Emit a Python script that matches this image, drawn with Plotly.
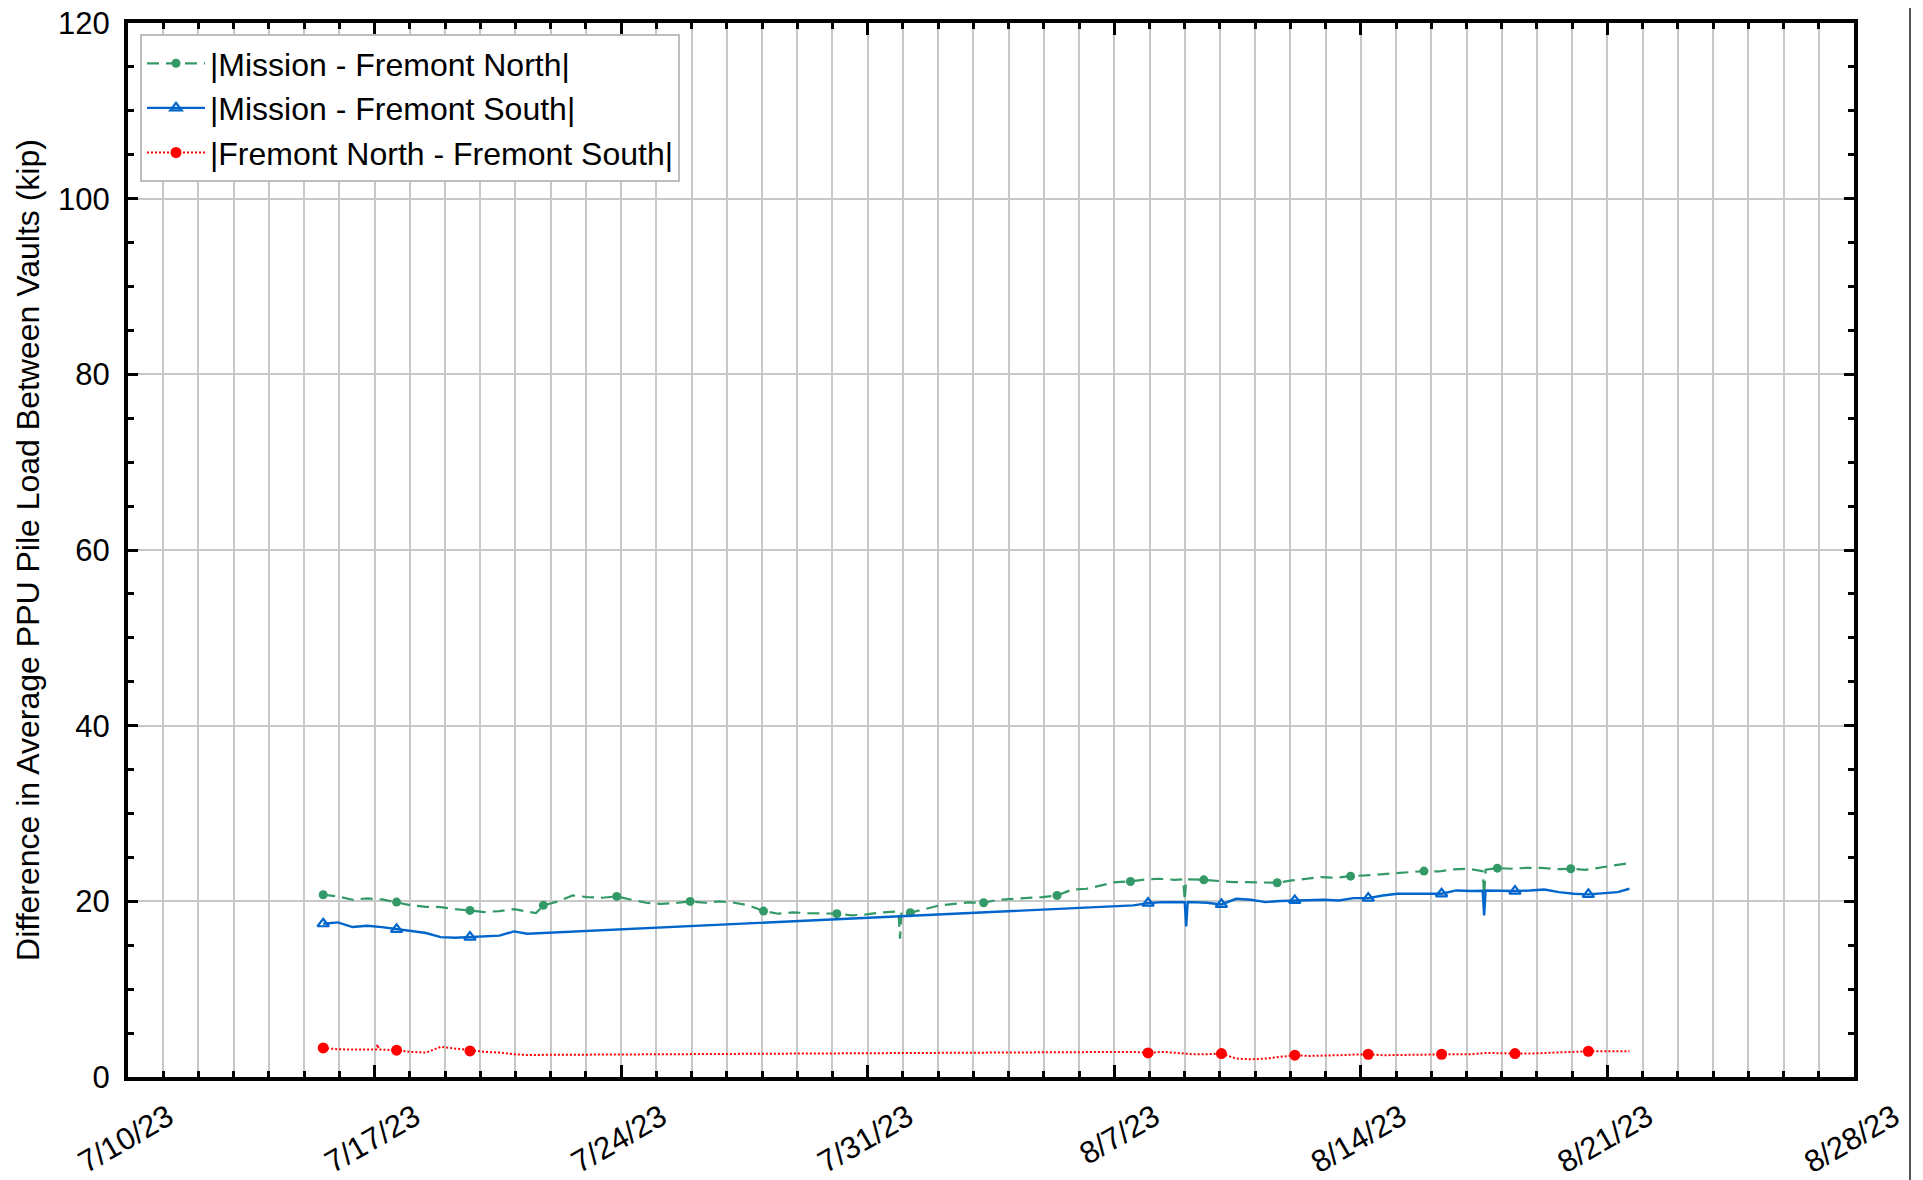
import plotly.graph_objects as go
import pandas as pd

# ---------------- data ----------------
log_start = "2023-07-15 13:00"   # first reading; readings logged hourly
marker_every = 50                # a marker on every 50th logged reading

# |Mission - Fremont North|
north_hours = [0, 10, 20, 30, 40, 50, 60, 70, 80, 90, 100, 110, 120, 130, 140, 145,
               150, 160, 170, 180, 190, 200, 210, 220, 230, 240, 250, 260, 270, 280,
               290, 300, 310, 320, 330, 340, 350, 360, 370, 380, 390, 392, 393, 394,
               400, 410, 420, 430, 440, 450, 460, 470, 480, 490, 500, 510, 520, 530,
               540, 550, 560, 570, 580, 586, 587, 588, 590, 600, 610, 620, 630, 640,
               650, 660, 670, 680, 690, 700, 710, 720, 730, 740, 750, 760, 770, 780,
               789, 790, 791, 792, 800, 810, 820, 830, 840, 850, 860, 870, 880, 890]
north_vals = [20.75, 20.56, 20.18, 20.33, 20.22, 19.91, 19.54, 19.38, 19.35, 19.12, 18.97,
              18.78, 18.89, 19.12, 18.81, 18.66, 19.54, 19.99, 20.67, 20.48, 20.41, 20.56,
              20.18, 19.84, 19.72, 19.80, 19.99, 19.84, 19.99, 19.84, 19.54, 18.89, 18.59,
              18.74, 18.66, 18.59, 18.59, 18.40, 18.51, 18.74, 18.85, 18.85, 15.75, 18.80,
              18.70, 19.16, 19.54, 19.72, 19.88, 19.84, 20.18, 20.29, 20.37, 20.48, 20.67,
              21.32, 21.43, 21.81, 22.19, 22.26, 22.49, 22.57, 22.45, 22.50, 20.10, 22.48,
              22.49, 22.45, 22.30, 22.19, 22.19, 22.19, 22.11, 22.38, 22.57, 22.76, 22.68,
              22.87, 22.95, 23.06, 23.21, 23.33, 23.44, 23.40, 23.63, 23.71, 23.50, 23.44,
              20.67, 23.60, 23.78, 23.71, 23.82, 23.82, 23.67, 23.71, 23.59, 23.82, 24.05,
              24.35]

# |Mission - Fremont South|  (no readings between hour 140 and hour 552)
south_gap = (140, 552)
south_hours = [0, 10, 20, 30, 40, 50, 60, 70, 80, 90, 100, 110, 120, 130, 139,
               552, 562, 572, 582, 587, 588, 589, 592, 602, 612, 622, 632, 642, 652,
               662, 672, 682, 692, 702, 712, 722, 732, 742, 752, 762, 772, 782, 790,
               791, 792, 802, 812, 822, 832, 842, 852, 862, 872, 882, 890]
south_vals = [17.45, 17.60, 17.07, 17.22, 17.07, 16.81, 16.62, 16.39, 15.93, 15.86, 15.93,
              16.01, 16.09, 16.58, 16.31,
              19.54, 19.80, 19.91, 19.91, 19.90, 17.15, 19.90, 19.91, 19.84, 19.65, 20.29,
              20.18, 19.91, 20.03, 20.10, 20.10, 20.18, 20.10, 20.37, 20.37, 20.67, 20.86,
              20.86, 20.94, 20.86, 21.24, 21.17, 21.20, 18.40, 21.24, 21.17, 21.17, 21.24,
              21.35, 21.05, 20.86, 20.79, 20.94, 21.05, 21.43]

# |Fremont North - Fremont South|
fnfs_hours = [0, 10, 20, 30, 36, 37, 38, 40, 50, 60, 70, 80, 90, 100, 110, 120, 130, 139,
              552, 562, 572, 582, 592, 602, 612, 622, 632, 642, 652, 662, 672, 682, 692,
              702, 712, 722, 732, 742, 752, 762, 772, 782, 792, 802, 812, 822, 832, 842,
              852, 862, 872, 882, 890]
fnfs_vals = [3.31, 3.16, 3.12, 3.12, 3.12, 3.70, 3.12, 3.12, 3.05, 2.86, 2.78, 3.43, 3.24,
             2.97, 2.86, 2.78, 2.59, 2.51,
             2.86, 2.74, 2.86, 2.74, 2.59, 2.59, 2.67, 2.10, 2.02, 2.10, 2.29, 2.48, 2.40,
             2.48, 2.48, 2.55, 2.59, 2.48, 2.48, 2.55, 2.55, 2.59, 2.59, 2.59, 2.74, 2.67,
             2.67, 2.67, 2.74, 2.86, 2.86, 2.93, 2.93, 2.90, 2.93]

x_range = ["2023-07-10", "2023-08-28"]
y_range = [0, 120]

# ---------------- helpers ----------------
t0 = pd.Timestamp(log_start)


def times(hours):
    return [t0 + pd.Timedelta(hours=h) for h in hours]


def marker_mask(hours, gap=None):
    out = []
    for h in hours:
        idx = h - (gap[1] - gap[0]) if (gap and h >= gap[1]) else h
        out.append(idx % marker_every == 0)
    return out


series = [
    dict(name="|Mission - Fremont North|", hours=north_hours, vals=north_vals, gap=None,
         color="#339966", dash="12px,7px", width=2.2,
         marker=dict(symbol="circle", size=9, color="#339966")),
    dict(name="|Mission - Fremont South|", hours=south_hours, vals=south_vals, gap=south_gap,
         color="#0066CC", dash="solid", width=2.4,
         marker=dict(symbol="triangle-up-open", size=10, color="#0066CC",
                     line=dict(width=2.2, color="#0066CC"))),
    dict(name="|Fremont North - Fremont South|", hours=fnfs_hours, vals=fnfs_vals,
         gap=south_gap, color="#FF0000", dash="2px,2px", width=2,
         marker=dict(symbol="circle", size=11, color="#FF0000")),
]

fig = go.Figure()
for s in series:
    x = times(s["hours"])
    mask = marker_mask(s["hours"], s["gap"])
    fig.add_trace(go.Scatter(
        x=x, y=s["vals"], mode="lines", legendgroup=s["name"], showlegend=False,
        line=dict(color=s["color"], dash=s["dash"], width=s["width"]),
        hoverinfo="skip"))
    fig.add_trace(go.Scatter(
        x=[xi for xi, m in zip(x, mask) if m],
        y=[v for v, m in zip(s["vals"], mask) if m],
        mode="markers", legendgroup=s["name"], showlegend=False,
        marker=s["marker"]))
for s in series:
    fig.add_trace(go.Scatter(
        x=[None], y=[None], mode="lines+markers", name=s["name"], legendgroup=s["name"],
        line=dict(color=s["color"], dash=s["dash"], width=s["width"]),
        marker=s["marker"]))

# page body has an 8px margin, so the figure is sized to fit inside the window
W, H = 1915, 1172
ml, mr, mt, mb = 120, 69, 15, 103
pw, ph = W - ml - mr, H - mt - mb

font = "Liberation Sans, Arial, sans-serif"
grid = "#C8C8C8"

fig.update_layout(
    width=W, height=H,
    margin=dict(l=ml, r=mr, t=mt, b=mb, autoexpand=False),
    paper_bgcolor="white", plot_bgcolor="white",
    font=dict(family=font, size=31, color="black"),
    showlegend=True,
    legend=dict(x=12 / pw, y=1 - 11 / ph, xanchor="left", yanchor="top",
                bgcolor="white", bordercolor="#BDBDBD", borderwidth=2,
                font=dict(size=32, family=font), traceorder="normal",
                itemwidth=58, tracegroupgap=0),
    shapes=[dict(type="line", xref="paper", yref="paper",
                 x0=(1902 - ml) / pw, x1=(1902 - ml) / pw,
                 y0=-mb / ph, y1=1 + mt / ph,
                 line=dict(color="#555555", width=2))],
)

fig.update_xaxes(
    type="date", range=x_range, autorange=False,
    tick0="2023-07-10", dtick=7 * 86400000, tickformat="%-m/%-d/%y",
    tickangle=-30, ticklabelshift=40, ticklabelstandoff=6, ticklabeloverflow="allow",
    ticks="inside", ticklen=12, tickwidth=3, tickcolor="black",
    showline=True, linewidth=4, linecolor="black", mirror="allticks",
    showgrid=True, gridcolor=grid, gridwidth=2, zeroline=False,
    tickfont=dict(size=31, family=font),
    minor=dict(dtick=86400000, tick0="2023-07-10", ticks="inside", ticklen=6,
               tickwidth=3, tickcolor="black", showgrid=True, gridcolor=grid,
               gridwidth=2),
)
fig.update_yaxes(
    range=y_range, autorange=False, tick0=0, dtick=20,
    ticks="inside", ticklen=10, tickwidth=3, tickcolor="black",
    showline=True, linewidth=4, linecolor="black", mirror="allticks",
    showgrid=True, gridcolor=grid, gridwidth=2, zeroline=False,
    tickfont=dict(size=31, family=font), ticklabelstandoff=8, ticklabeloverflow="allow",
    title=dict(text="Difference in Average PPU Pile Load Between Vaults (kip)",
               font=dict(size=32, family=font), standoff=10),
    minor=dict(dtick=5, ticks="inside", ticklen=6, tickwidth=3, tickcolor="black",
               showgrid=False),
)

fig.write_html("out.html")
